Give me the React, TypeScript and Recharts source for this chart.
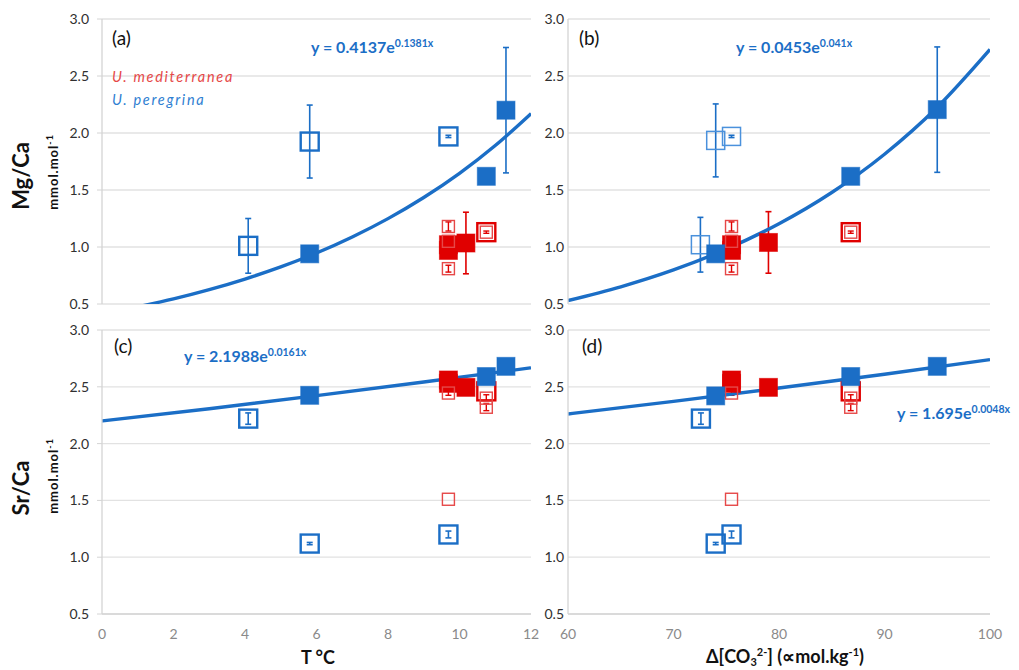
import React from 'react';
import { ComposedChart, Scatter, Line, XAxis, YAxis, CartesianGrid, ErrorBar } from 'recharts';

// ---------- data ----------
const yTicks = [0.5, 1.0, 1.5, 2.0, 2.5, 3.0];
const tTicks = [0, 2, 4, 6, 8, 10, 12];
const coTicks = [60, 70, 80, 90, 100];

// Panel (a): Mg/Ca vs T
const aRedFilled = [
  { x: 9.69, y: 1.02 },
  { x: 9.69, y: 0.97 },
  { x: 10.18, y: 1.035, e: 0.27 },
];
const aRedOpenLarge = [{ x: 10.75, y: 1.13 }];
const aRedOpenSmall = [
  { x: 9.69, y: 1.18, e: 0.04 },
  { x: 9.69, y: 1.05, e: 0.02 },
  { x: 9.69, y: 0.81, e: 0.03 },
  { x: 10.75, y: 1.13, e: 0.01 },
];
const aBlueOpen = [
  { x: 4.09, y: 1.01, e: 0.24 },
  { x: 5.81, y: 1.925, e: 0.32 },
  { x: 9.69, y: 1.97, e: 0.01 },
];
const aBlueFilled = [
  { x: 5.81, y: 0.94 },
  { x: 10.75, y: 1.62 },
  { x: 11.3, y: 2.2, e: 0.55 },
];
const aTrend = [
  { x: 1, y: 0.475 }, { x: 2, y: 0.545 }, { x: 3, y: 0.626 }, { x: 4, y: 0.719 },
  { x: 5, y: 0.825 }, { x: 6, y: 0.947 }, { x: 7, y: 1.088 }, { x: 8, y: 1.249 },
  { x: 9, y: 1.434 }, { x: 10, y: 1.646 }, { x: 11, y: 1.89 }, { x: 12, y: 2.17 },
];

// Panel (b): Mg/Ca vs Δ[CO3 2-]
const bRedFilled = [
  { x: 75.5, y: 1.02 },
  { x: 75.5, y: 0.97 },
  { x: 79.0, y: 1.04, e: 0.27 },
];
const bRedOpenLarge = [{ x: 86.8, y: 1.13 }];
const bRedOpenSmall = [
  { x: 75.5, y: 1.18, e: 0.04 },
  { x: 75.5, y: 1.05, e: 0.02 },
  { x: 75.5, y: 0.81, e: 0.03 },
  { x: 86.8, y: 1.13, e: 0.01 },
];
const bBlueOpen = [
  { x: 72.55, y: 1.02, e: 0.24 },
  { x: 74.0, y: 1.935, e: 0.32 },
  { x: 75.5, y: 1.97, e: 0.01 },
];
const bBlueFilled = [
  { x: 74.0, y: 0.94 },
  { x: 86.8, y: 1.62 },
  { x: 95.0, y: 2.205, e: 0.55 },
];
const bTrend = [
  { x: 60, y: 0.53 }, { x: 65, y: 0.651 }, { x: 70, y: 0.799 }, { x: 75, y: 0.981 },
  { x: 80, y: 1.204 }, { x: 85, y: 1.478 }, { x: 90, y: 1.814 }, { x: 95, y: 2.226 },
  { x: 100, y: 2.733 },
];

// Panel (c): Sr/Ca vs T
const cRedFilled = [
  { x: 9.69, y: 2.56 },
  { x: 9.69, y: 2.53 },
  { x: 10.18, y: 2.495 },
];
const cRedOpenLarge = [{ x: 10.75, y: 2.46 }];
const cRedOpenSmall = [
  { x: 9.69, y: 2.445, e: 0.02 },
  { x: 9.69, y: 1.51 },
  { x: 10.75, y: 2.4, e: 0.03 },
  { x: 10.75, y: 2.32, e: 0.03 },
];
const cBlueOpen = [
  { x: 4.09, y: 2.22, e: 0.05 },
  { x: 5.81, y: 1.12, e: 0.01 },
  { x: 9.69, y: 1.2, e: 0.03 },
];
const cBlueFilled = [
  { x: 5.81, y: 2.425 },
  { x: 10.75, y: 2.59 },
  { x: 11.3, y: 2.68 },
];
const cTrend = [
  { x: 0, y: 2.199 }, { x: 3, y: 2.307 }, { x: 6, y: 2.422 }, { x: 9, y: 2.542 }, { x: 12, y: 2.667 },
];

// Panel (d): Sr/Ca vs Δ[CO3 2-]
const dRedFilled = [
  { x: 75.5, y: 2.56 },
  { x: 75.5, y: 2.53 },
  { x: 79.0, y: 2.495 },
];
const dRedOpenLarge = [{ x: 86.8, y: 2.46 }];
const dRedOpenSmall = [
  { x: 75.5, y: 2.445, e: 0.02 },
  { x: 75.5, y: 1.51 },
  { x: 86.8, y: 2.4, e: 0.03 },
  { x: 86.8, y: 2.32, e: 0.03 },
];
const dBlueOpen = [
  { x: 72.6, y: 2.22, e: 0.05 },
  { x: 74.0, y: 1.12, e: 0.01 },
  { x: 75.5, y: 1.2, e: 0.03 },
];
const dBlueFilled = [
  { x: 74.0, y: 2.42 },
  { x: 86.8, y: 2.59 },
  { x: 95.0, y: 2.68 },
];
const dTrend = [
  { x: 60, y: 2.261 }, { x: 70, y: 2.372 }, { x: 80, y: 2.489 }, { x: 90, y: 2.611 }, { x: 100, y: 2.739 },
];

// ---------- styles ----------
const FONT = 'Lato, "Open Sans", sans-serif';
const BLUE = '#1b6ec6';
const BLUE_LIGHT = '#4a91dc';
const RED = '#e00000';
const RED_LIGHT = '#e64848';
const GRID = '#e2e2e2';
const AXIS = '#d4d4d4';

const filledSquare = (color: string, s: number) => (p: any) => (
  <rect x={p.cx - s / 2} y={p.cy - s / 2} width={s} height={s} fill={color} stroke={color} strokeOpacity={0.6} strokeWidth={1} />
);
const openSquare = (color: string, s: number, w: number) => (p: any) => (
  <rect x={p.cx - s / 2} y={p.cy - s / 2} width={s} height={s} fill="none" stroke={color} strokeWidth={w} />
);

type PanelProps = {
  left: number;
  top: number;
  width: number;
  height: number;
  margin: any;
  yWidth: number;
  leftPanel: boolean;
  bottomPanel: boolean;
  xDomain: [number, number];
  xTicks: number[];
  redFilled: any[];
  redOpenLarge: any[];
  redOpenSmall: any[];
  blueOpen: any[];
  blueFilled: any[];
  trend: any[];
  blueOpenColor: string;
  blueOpenWidth: number;
};

function Panel(p: PanelProps) {
  return (
    <div style={{ position: 'absolute', left: p.left, top: p.top }}>
      <ComposedChart width={p.width} height={p.height} margin={p.margin} style={{ overflow: 'visible' }}>
        <CartesianGrid vertical={false} stroke={GRID} strokeWidth={1.3} />
        <XAxis
          type="number"
          dataKey="x"
          domain={p.xDomain}
          ticks={p.xTicks}
          interval={0}
          allowDataOverflow
          height={p.bottomPanel ? 56 : 0}
          tick={p.bottomPanel ? { fill: '#8a8a8a', fontSize: 14, fontFamily: FONT } : false}
          tickLine={false}
          tickSize={0}
          tickMargin={15}
          axisLine={{ stroke: AXIS, strokeWidth: 1.3 }}
        />
        <YAxis
          type="number"
          dataKey="y"
          domain={[0.5, 3]}
          ticks={yTicks}
          interval={0}
          allowDataOverflow
          width={p.yWidth}
          tickFormatter={(v: number) => v.toFixed(1)}
          tick={{ fill: '#303030', fontSize: 14, fontFamily: FONT }}
          tickLine={p.leftPanel ? { stroke: AXIS } : false}
          tickSize={p.leftPanel ? 5 : 0}
          tickMargin={p.leftPanel ? 8 : 4}
          axisLine={{ stroke: AXIS, strokeWidth: 1.3 }}
        />
        <Scatter data={p.redFilled} isAnimationActive={false} shape={filledSquare(RED, 18)}>
          <ErrorBar dataKey="e" direction="y" width={3} stroke={RED} strokeWidth={1.6} />
        </Scatter>
        <Scatter data={p.redOpenLarge} isAnimationActive={false} shape={openSquare(RED, 18, 2.4)} />
        <Scatter data={p.redOpenSmall} isAnimationActive={false} shape={openSquare(RED_LIGHT, 12, 1.4)}>
          <ErrorBar dataKey="e" direction="y" width={3} stroke={RED} strokeWidth={1.4} />
        </Scatter>
        <Line
          data={p.trend}
          dataKey="y"
          type="monotone"
          stroke={BLUE}
          strokeWidth={3.4}
          dot={false}
          activeDot={false}
          isAnimationActive={false}
        />
        <Scatter data={p.blueOpen} isAnimationActive={false} shape={openSquare(p.blueOpenColor, 18, p.blueOpenWidth)}>
          <ErrorBar dataKey="e" direction="y" width={3} stroke={BLUE} strokeWidth={1.6} />
        </Scatter>
        <Scatter data={p.blueFilled} isAnimationActive={false} shape={filledSquare(BLUE, 18)}>
          <ErrorBar dataKey="e" direction="y" width={3} stroke={BLUE} strokeWidth={1.6} />
        </Scatter>
      </ComposedChart>
    </div>
  );
}

function Equation({ x, y, main, exp }: { x: number; y: number; main: string; exp: string }) {
  return (
    <text x={x} y={y} fill={BLUE} fontFamily={FONT} fontWeight={700} fontSize={16}>
      {main}
      <tspan fontSize={10.5} dy={-6}>{exp}</tspan>
    </text>
  );
}

export default function App() {
  const leftMargin = { top: 19, right: 14, left: 0, bottom: 16 };
  const rightMargin = { top: 19, right: 29, left: 0, bottom: 16 };
  const leftMarginB = { top: 20, right: 14, left: 0, bottom: 0 };
  const rightMarginB = { top: 20, right: 29, left: 0, bottom: 0 };
  return (
    <div style={{ position: 'absolute', left: 0, top: 0, width: 1019, height: 670, background: '#fff', overflow: 'hidden' }}>
      <Panel left={0} top={0} width={545} height={320} margin={leftMargin} yWidth={102} leftPanel bottomPanel={false}
        xDomain={[0, 12]} xTicks={tTicks}
        redFilled={aRedFilled} redOpenLarge={aRedOpenLarge} redOpenSmall={aRedOpenSmall}
        blueOpen={aBlueOpen} blueFilled={aBlueFilled} trend={aTrend} blueOpenColor={BLUE} blueOpenWidth={2.4} />
      <Panel left={520} top={0} width={499} height={320} margin={rightMargin} yWidth={48} leftPanel={false} bottomPanel={false}
        xDomain={[60, 100]} xTicks={coTicks}
        redFilled={bRedFilled} redOpenLarge={bRedOpenLarge} redOpenSmall={bRedOpenSmall}
        blueOpen={bBlueOpen} blueFilled={bBlueFilled} trend={bTrend} blueOpenColor={BLUE_LIGHT} blueOpenWidth={1.5} />
      <Panel left={0} top={310} width={545} height={360} margin={leftMarginB} yWidth={102} leftPanel bottomPanel
        xDomain={[0, 12]} xTicks={tTicks}
        redFilled={cRedFilled} redOpenLarge={cRedOpenLarge} redOpenSmall={cRedOpenSmall}
        blueOpen={cBlueOpen} blueFilled={cBlueFilled} trend={cTrend} blueOpenColor={BLUE} blueOpenWidth={2.4} />
      <Panel left={520} top={310} width={499} height={360} margin={rightMarginB} yWidth={48} leftPanel={false} bottomPanel
        xDomain={[60, 100]} xTicks={coTicks}
        redFilled={dRedFilled} redOpenLarge={dRedOpenLarge} redOpenSmall={dRedOpenSmall}
        blueOpen={dBlueOpen} blueFilled={dBlueFilled} trend={dTrend} blueOpenColor={BLUE} blueOpenWidth={2.4} />

      <svg width={1019} height={670} style={{ position: 'absolute', left: 0, top: 0, pointerEvents: 'none' }}>
        {/* panel letters */}
        <text x={112} y={45} fontFamily={FONT} fontSize={19} fill="#111">(a)</text>
        <text x={579} y={45} fontFamily={FONT} fontSize={19} fill="#111">(b)</text>
        <text x={114} y={353} fontFamily={FONT} fontSize={19} fill="#111">(c)</text>
        <text x={582} y={353} fontFamily={FONT} fontSize={19} fill="#111">(d)</text>

        {/* legend */}
        <text x={112} y={82} fontFamily={FONT} fontStyle="italic" fontSize={14.5} letterSpacing={1.7} fill={RED_LIGHT}>U. mediterranea</text>
        <text x={112} y={105} fontFamily={FONT} fontStyle="italic" fontSize={14.5} letterSpacing={1.7} fill="#2f80d2">U. peregrina</text>

        {/* trend equations */}
        <Equation x={311} y={53} main="y = 0.4137e" exp="0.1381x" />
        <Equation x={736} y={53} main="y = 0.0453e" exp="0.041x" />
        <Equation x={184} y={362} main="y = 2.1988e" exp="0.0161x" />
        <Equation x={897} y={419} main="y = 1.695e" exp="0.0048x" />

        {/* y-axis titles */}
        <text transform="translate(29,176) rotate(-90)" textAnchor="middle" fontFamily={FONT} fontWeight={700} fontSize={22} fill="#111">Mg/Ca</text>
        <text transform="translate(58,172) rotate(-90)" textAnchor="middle" fontFamily={FONT} fontWeight={700} fontSize={13} letterSpacing={1} fill="#111">
          mmol.mol<tspan fontSize={9} dy={-5}>-1</tspan>
        </text>
        <text transform="translate(29,488) rotate(-90)" textAnchor="middle" fontFamily={FONT} fontWeight={700} fontSize={22} fill="#111">Sr/Ca</text>
        <text transform="translate(58,476) rotate(-90)" textAnchor="middle" fontFamily={FONT} fontWeight={700} fontSize={13} letterSpacing={1} fill="#111">
          mmol.mol<tspan fontSize={9} dy={-5}>-1</tspan>
        </text>

        {/* x-axis titles */}
        <text x={318} y={664} textAnchor="middle" fontFamily={FONT} fontWeight={700} fontSize={18} fill="#111">T °C</text>
        <text x={785} y={663} textAnchor="middle" fontFamily={FONT} fontWeight={700} fontSize={18} fill="#111">
          Δ[CO<tspan fontSize={11} dy={3}>3</tspan><tspan fontSize={11} dy={-10}>2-</tspan><tspan dy={7}>] (∝mol.kg</tspan><tspan fontSize={11} dy={-7}>-1</tspan><tspan dy={7}>)</tspan>
        </text>
      </svg>
    </div>
  );
}
